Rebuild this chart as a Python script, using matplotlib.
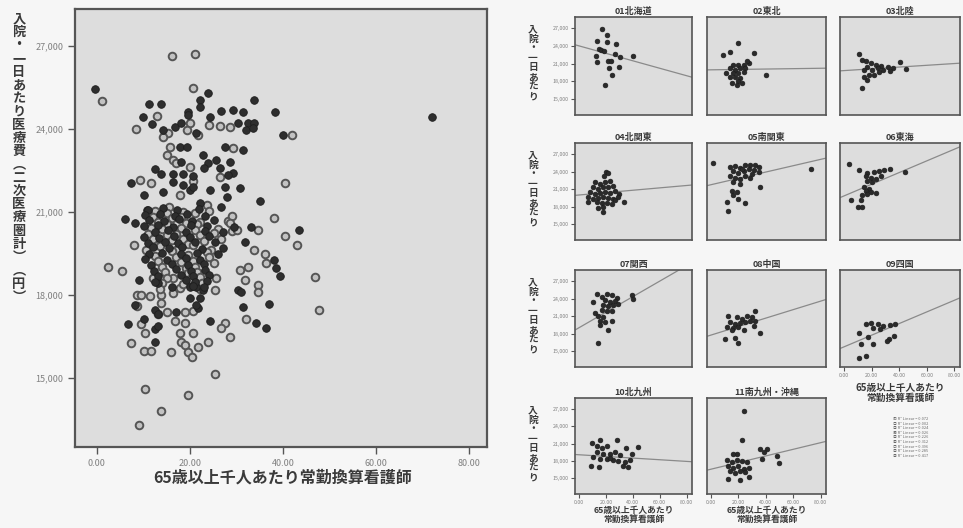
import matplotlib
matplotlib.use('Agg')
import matplotlib.pyplot as plt
import numpy as np

plt.rcParams['font.family'] = ['Noto Sans CJK JP', 'DejaVu Sans']

# ---------------- main scatter data ----------------
main_filled_x = [-0.4, 23.9, 22.1, 22.1, 33.7, 38.4, 72.1, 11.2, 13.9, 10.0, 11.8, 19.6, 19.6, 24.3, 26.8,
                 29.3, 31.4, 30.4, 32.5, 33.9, 32.1, 33.6, 40.0, 14.3, 16.8, 18.2, 21.4, 17.9, 19.3, 18.2,
                 22.9, 23.9, 25.7, 26.4, 23.0, 27.5, 31.4, 28.6, 29.3, 12.5, 13.9, 16.4, 18.6, 20.7, 28.2,
                 7.3, 16.4, 18.6, 20.0, 24.3, 27.5, 30.7, 14.3, 10.2, 20.7, 22.1, 27.9, 26.8, 35.0, 6.1,
                 8.2, 10.7, 33.2, 43.4, 31.8, 38.2, 38.6, 39.3, 30.4, 31.1, 9.1, 13.2, 20.0, 21.4, 22.9,
                 20.0, 22.1, 8.2, 37.1, 31.4, 12.4, 17.1, 21.8, 21.4, 6.8, 10.1, 13.2, 24.3, 34.3, 36.4,
                 12.5, 13.2, 12.5,
                 11.0, 14.2, 17.3, 22.0, 10.4, 13.6, 16.7, 19.4, 23.2, 11.2, 14.4, 17.6, 20.4, 25.1,
                 10.1, 13.1, 16.4, 20.2, 23.6, 29.4, 12.6, 15.4, 19.1, 23.2, 27.1, 10.2, 13.4, 16.6,
                 20.1, 24.2, 11.1, 14.6, 17.4, 21.2, 25.4, 12.1, 15.6, 18.4, 22.6, 27.2, 11.2, 14.1,
                 18.1, 21.6, 26.1, 10.3, 15.1, 19.2, 22.1, 11.6, 16.2, 19.6, 23.1, 12.2, 17.1, 20.2,
                 23.2, 13.1, 18.2, 20.6, 24.1, 12.6, 19.1, 21.2, 23.6, 16.1, 20.6, 23.1]
main_filled_y = [25430, 25320, 25050, 24810, 25050, 24610, 24450, 24900, 24900, 24420, 24180, 24630, 24500,
                 24450, 24650, 24690, 24630, 24200, 24200, 24200, 23960, 24020, 23780, 23960, 24080, 24200,
                 23840, 23360, 23360, 22820, 23060, 22760, 22880, 22580, 22580, 23360, 23240, 22820, 22400,
                 22550, 22370, 22370, 22370, 22310, 22340, 22060, 22100, 21980, 21800, 21800, 21920, 21880,
                 21730, 21610, 21900, 21310, 21550, 21170, 21410, 20760, 20590, 21070, 20470, 20350, 19930,
                 19260, 18960, 18690, 18180, 18120, 18540, 18440, 18300, 18300, 18180, 17900, 17900, 17640,
                 17670, 17550, 17460, 17400, 17520, 17640, 16950, 17120, 17300, 17040, 17000, 16790, 16750,
                 16870, 16310,
                 21080, 21130, 21060, 21110, 20880, 20930, 20860, 20920, 20870, 20710, 20670, 20730, 20690,
                 20720, 20480, 20530, 20460, 20520, 20490, 20470, 20280, 20330, 20270, 20320, 20290, 20110,
                 20070, 20130, 20080, 20120, 19880, 19930, 19870, 19910, 19920, 19720, 19680, 19730, 19670,
                 19710, 19480, 19530, 19470, 19520, 19490, 19310, 19280, 19330, 19270, 19090, 19130, 19070,
                 19120, 18880, 18930, 18870, 18910, 18690, 18730, 18670, 18720, 18480, 18530, 18470, 18510,
                 18290, 18320, 18270]

main_hollow_x = [1.2, 16.2, 21.1, 20.7, 12.9, 8.4, 20.0, 24.1, 26.4, 28.6, 42.0, 15.4, 14.3, 19.3, 21.8,
                 15.7, 15.0, 16.4, 17.1, 20.0, 29.3, 20.7, 26.4, 9.3, 11.6, 40.4, 17.9, 23.6, 38.2, 28.2,
                 29.0, 34.6, 40.5, 43.1, 7.9, 33.9, 36.1, 36.4, 2.5, 5.4, 47.0, 30.7, 32.5, 31.8, 34.6,
                 34.6, 12.1, 16.4, 17.9, 25.4, 25.7, 8.6, 9.6, 11.4, 13.9, 16.4, 8.6, 13.9, 47.7, 13.2,
                 15.0, 18.9, 20.7, 9.6, 16.8, 18.9, 27.5, 26.8, 28.6, 32.1, 10.4, 17.9, 20.7, 7.4, 18.2,
                 18.9, 21.8, 23.9, 10.1, 11.6, 15.9, 19.6, 20.4, 25.5, 10.4, 19.6, 13.9, 9.1,
                 12.6, 15.6, 18.6, 24.1, 12.1, 15.1, 18.1, 21.1, 29.1, 13.1, 16.1, 19.1, 22.1, 28.6,
                 11.6, 15.1, 18.1, 21.6, 26.1, 11.1, 14.1, 17.1, 21.1, 25.1, 30.1, 12.1, 15.1, 18.6,
                 22.1, 26.6, 13.1, 16.1, 19.6, 23.1, 10.6, 13.6, 17.1, 20.6, 24.6, 12.6, 16.1, 19.6,
                 23.6, 13.1, 17.1, 20.6, 24.1, 14.1, 18.1, 21.1, 25.1, 14.6, 19.1, 21.6, 15.1, 19.6,
                 22.1, 14.1, 20.1, 22.6, 13.6, 18.6, 22.1]
main_hollow_y = [25020, 26650, 26700, 25500, 24460, 24000, 24230, 24140, 24110, 24080, 23780, 23840, 23720,
                 23960, 23780, 23360, 23060, 22880, 22760, 22640, 23300, 22130, 22280, 22160, 22040, 22060,
                 21600, 21250, 20770, 20660, 20300, 20350, 20130, 19810, 19810, 19630, 19470, 19140, 19020,
                 18870, 18660, 18900, 19020, 18540, 18360, 18100, 18600, 18600, 18240, 18180, 18600, 17990,
                 17990, 17950, 17990, 18060, 17600, 17700, 17460, 17320, 17400, 17370, 17420, 16950, 17040,
                 16970, 16980, 16800, 16490, 17120, 16610, 16610, 16610, 16250, 16310, 16190, 16130, 16280,
                 15970, 15970, 15950, 15950, 15750, 15130, 14590, 14380, 13810, 13300,
                 21020, 21170, 21000, 21050, 20800, 20970, 20830, 20960, 20850, 20620, 20780, 20610, 20640,
                 20600, 20420, 20580, 20410, 20560, 20400, 20220, 20380, 20210, 20360, 20230, 20350, 20020,
                 20180, 20010, 20160, 20030, 19820, 19980, 19830, 19960, 19620, 19780, 19610, 19790, 19640,
                 19420, 19580, 19430, 19570, 19220, 19380, 19230, 19360, 19020, 19180, 19010, 19160, 18820,
                 18980, 18830, 18620, 18780, 18630, 18420, 18580, 18430, 18230, 18380, 18220]

# ---------------- regional panels ----------------
region_names = ['01北海道', '02東北', '03北陸', '04北関東', '05南関東', '06東海',
                '07関西', '08中国', '09四国', '10北九州', '11南九州・沖縄']

reg_x = [
    [16.8, 21.0, 13.1, 20.5, 27.5, 14.6, 16.3, 18.3, 12.6, 26.8, 30.4, 39.9, 13.1, 21.8, 23.5, 22.5, 29.7, 24.3, 19.6],
    [19.3, 8.4, 13.9, 31.2, 16.3, 20.0, 23.8, 27.5, 26.2, 13.9, 17.6, 21.3, 25.0, 16.3, 20.0, 23.8, 13.9, 17.6, 21.3,
     19.3, 15.1, 18.8, 22.5, 10.9, 39.9],
    [10.6, 13.1, 15.6, 19.3, 23.0, 26.7, 31.7, 35.4, 16.8, 14.4, 20.5, 24.3, 28.0, 32.9, 40.3, 44.8, 18.1, 21.8, 16.8,
     13.1, 14.4, 25.5],
    [20.0, 21.8, 18.6, 11.9, 15.6, 19.3, 23.0, 10.6, 14.4, 18.1, 21.8, 25.5, 8.2, 11.9, 15.6, 19.3, 23.0, 26.7, 30.0,
     6.9, 10.6, 14.4, 18.1, 21.8, 25.5, 6.9, 13.1, 16.8, 20.5, 24.3, 33.4, 14.4, 18.1, 17.6, 26.7, 29.2],
    [1.5, 13.9, 17.6, 21.3, 25.0, 28.7, 32.4, 34.9, 73.3, 16.3, 20.0, 23.8, 27.5, 31.2, 34.9, 13.9, 17.6, 21.3, 25.0,
     28.7, 16.3, 21.3, 36.1, 15.1, 18.8, 16.3, 20.0, 11.4, 25.0, 12.1, 30.0, 22.5],
    [3.7, 10.6, 16.8, 21.8, 25.5, 29.2, 32.9, 44.1, 15.6, 19.3, 23.0, 26.7, 16.8, 20.5, 14.4, 18.1, 15.6, 19.3, 23.0,
     16.8, 13.1, 5.2, 11.9, 9.9, 13.1],
    [13.1, 16.8, 20.5, 24.3, 28.0, 39.1, 40.3, 19.3, 23.0, 26.7, 18.1, 21.8, 25.5, 29.2, 20.5, 24.3, 11.9, 14.4, 18.1,
     15.6, 19.3, 24.3, 21.8, 14.4, 15.6, 16.8, 10.6],
    [12.6, 18.8, 22.5, 26.2, 29.9, 32.4, 13.9, 17.6, 21.3, 25.0, 28.7, 32.4, 11.4, 16.3, 20.0, 23.8, 36.1, 10.1, 17.6,
     20.0, 31.2, 15.1],
    [16.1, 19.8, 24.8, 28.5, 33.4, 37.1, 21.0, 26.0, 10.6, 17.3, 32.2, 30.9, 12.4, 21.0, 16.1, 11.1, 35.9],
    [9.4, 15.6, 13.1, 16.8, 20.5, 28.0, 34.9, 44.1, 13.1, 18.1, 23.0, 26.7, 30.4, 39.1, 15.6, 20.5, 25.5, 29.2, 34.2,
     37.9, 8.7, 14.9, 32.9, 36.6, 23.0, 10.6],
    [23.8, 22.5, 18.8, 36.1, 41.1, 38.6, 37.4, 48.5, 49.8, 11.4, 15.1, 18.8, 22.5, 26.2, 12.6, 16.3, 20.0, 23.8, 27.5,
     13.9, 17.6, 21.3, 25.0, 12.6, 21.3, 27.5, 16.3],
]
reg_y = [
    [26940, 25920, 24780, 24610, 24330, 23470, 23250, 23070, 22330, 22620, 22110, 22220, 21250, 21370, 21480, 20340,
     20400, 19090, 17380],
    [24500, 22500, 22900, 22790, 20800, 20800, 20800, 21080, 21370, 20230, 19940, 20230, 20230, 19380, 19380, 19660,
     18810, 18690, 18520, 18120, 17670, 17380, 17670, 19490, 19090],
    [22620, 21650, 21370, 21080, 20800, 20630, 20510, 20340, 20510, 19940, 19940, 20230, 19940, 19770, 21250, 20120,
     19090, 19090, 18240, 16820, 18810, 19660],
    [24000, 23830, 23280, 22160, 21890, 22160, 22440, 21330, 21050, 21330, 21330, 21610, 20500, 20220, 20330, 20500,
     20330, 20660, 20220, 19660, 19380, 19550, 19660, 19490, 19380, 18830, 18830, 18550, 18660, 18440, 18830, 17720,
     17990, 17160, 19110, 19660],
    [25500, 24830, 24940, 24670, 25220, 25110, 25220, 24830, 24550, 24110, 23830, 24110, 24390, 24220, 24000, 23280,
     23000, 22720, 23280, 23000, 22160, 21890, 21440, 20770, 20500, 19940, 19380, 18830, 18550, 17330, 23550, 24390],
    [25330, 24220, 23830, 24000, 24110, 24220, 24390, 24000, 23280, 23000, 22720, 23280, 22440, 22160, 21330, 21050,
     20770, 20500, 20330, 20220, 19940, 19220, 19110, 17880, 17990],
    [24840, 24300, 24730, 24570, 24140, 24570, 24030, 23760, 23490, 23600, 22950, 22680, 22840, 23050, 21970, 21870,
     21600, 21050, 20780, 20240, 19970, 20240, 18620, 16460, 19430, 22140, 23490],
    [21050, 20780, 20510, 21050, 20890, 21870, 19970, 19700, 19810, 19970, 20240, 20140, 19160, 18890, 19160, 18620,
     18190, 17110, 17270, 16460, 19270, 18620],
    [19700, 19810, 19600, 19270, 19430, 19700, 18890, 18730, 18190, 17430, 17000, 16730, 16190, 16190, 14190, 13760,
     17540],
    [21140, 21680, 20590, 20320, 20590, 21570, 20320, 20480, 19510, 19240, 19240, 19510, 18960, 19240, 18420, 18260,
     18150, 17990, 17880, 18150, 17060, 16960, 17060, 16960, 18510, 18690],
    [26670, 21680, 19240, 20050, 20160, 19510, 18420, 18800, 17720, 18150, 17880, 18150, 18040, 17880, 17060, 16790,
     17060, 16630, 16790, 16250, 15980, 16250, 16090, 14890, 14620, 15160, 19240],
]
# fitted line (intercept, slope)
fit_intercept = [24020, 19950, 19820, 20000, 21770, 19850, 19020, 17760, 15740, 19080, 16580]
fit_slope = [-63.4, 3.3, 15.0, 20.4, 54.3, 100.3, 133.3, 72.7, 100.0, -14.4, 57.4]

legend_lines = ['① R² Linear = 0.072', '② R² Linear = 0.002', '③ R² Linear = 0.024',
                '④ R² Linear = 0.026', '⑤ R² Linear = 0.226', '⑥ R² Linear = 0.312',
                '⑦ R² Linear = 0.396', '⑧ R² Linear = 0.285', '⑨ R² Linear = 0.417']

y_ticks = [15000, 18000, 21000, 24000, 27000]
x_ticks = [0, 20, 40, 60, 80]
x_label = '65歳以上千人あたり常勤換算看護師'
x_label_small = '65歳以上千人あたり\n常勤換算看護師'
y_label_main = '入院・一日あたり医療費︵二次医療圏計︶︵円︶'
y_label_small = '入院・一日あたり'

# ---------------- figure ----------------
W, H = 963, 528
fig = plt.figure(figsize=(W / 100, H / 100), dpi=100, facecolor='#f6f6f6')


def add_ax(l, t, r, b):
    return fig.add_axes([l / W, 1 - b / H, (r - l) / W, (b - t) / H])


def style(ax, lw=1.4):
    ax.set_facecolor('#dddddd')
    for s in ax.spines.values():
        s.set_color('#555555')
        s.set_linewidth(lw)


ax = add_ax(75, 9, 487, 447)
style(ax, 1.6)
ax.scatter(main_hollow_x, main_hollow_y, s=30, facecolors='#c2c2c2', edgecolors='#555555',
           linewidths=1.4, zorder=3)
ax.scatter(main_filled_x, main_filled_y, s=30, c='#2e2e2e', edgecolors='#1e1e1e',
           linewidths=0.6, zorder=4)
ax.set_xlim(-4.7, 83.9)
ax.set_ylim(12500, 28340)
ax.set_xticks(x_ticks)
ax.set_xticklabels([f'{v:.2f}' for v in x_ticks])
ax.set_yticks(y_ticks)
ax.set_yticklabels([f'{v:,}' for v in y_ticks])
ax.tick_params(axis='both', colors='#555555', labelcolor='#808080', labelsize=6.5, length=5, width=1.0)
fig.text(283 / W, 1 - 478 / H, x_label, ha='center', va='center', fontsize=11.5,
         fontweight='bold', color='#3a3a3a')
fig.text(19 / W, 1 - 12 / H, '\n'.join(y_label_main), ha='center', va='top', fontsize=9.5,
         fontweight='bold', color='#3a3a3a', linespacing=0.93)

col_l = [575, 707, 840]
col_r = [692, 826, 960]
row_t = [17, 143, 270, 398]
row_b = [115, 240, 367, 494]
bottom_panels = {8, 9, 10}

for i, name in enumerate(region_names):
    r, c = divmod(i, 3)
    a = add_ax(col_l[c], row_t[r], col_r[c], row_b[r])
    style(a, 1.2)
    a.scatter(reg_x[i], reg_y[i], s=12, c='#2a2a2a', edgecolors='#1a1a1a', linewidths=0.4, zorder=3)
    xs = np.array([-5.0, 90.0])
    a.plot(xs, fit_intercept[i] + fit_slope[i] * xs, color='#8a8a8a', lw=0.9, zorder=2)
    a.set_xlim(-3, 84)
    a.set_ylim(12270, 28930)
    a.set_xticks(x_ticks)
    a.set_yticks(y_ticks)
    a.tick_params(axis='both', colors='#555555', labelcolor='#808080', labelsize=3.8, length=3, width=0.8,
                  pad=1.5)
    if c == 0:
        a.set_yticklabels([f'{v:,}' for v in y_ticks])
        fig.text(533 / W, 1 - (row_t[r] + 7) / H, '\n'.join(y_label_small), ha='center', va='top',
                 fontsize=7, fontweight='bold', color='#3a3a3a', linespacing=0.95)
    else:
        a.tick_params(axis='y', length=0, labelleft=False)
    if i in bottom_panels:
        a.set_xticklabels([f'{v:.2f}' for v in x_ticks])
        fs = 7 if r < 3 else 6.3
        top = row_b[r] + (16 if r < 3 else 12)
        fig.text((col_l[c] + col_r[c]) / 2 / W, 1 - top / H, x_label_small, ha='center',
                 va='top', fontsize=fs, fontweight='bold', color='#3a3a3a', linespacing=0.92)
    else:
        a.tick_params(axis='x', length=0, labelbottom=False)
    a.set_title(name, fontsize=6.5, fontweight='bold', color='#3a3a3a', pad=2.5)

fig.text(893 / W, 1 - 417 / H, '\n'.join(legend_lines), ha='left', va='top', fontsize=2.8,
         color='#6a6a6a', linespacing=1.2)

fig.savefig('out.png', dpi=100, facecolor=fig.get_facecolor())
